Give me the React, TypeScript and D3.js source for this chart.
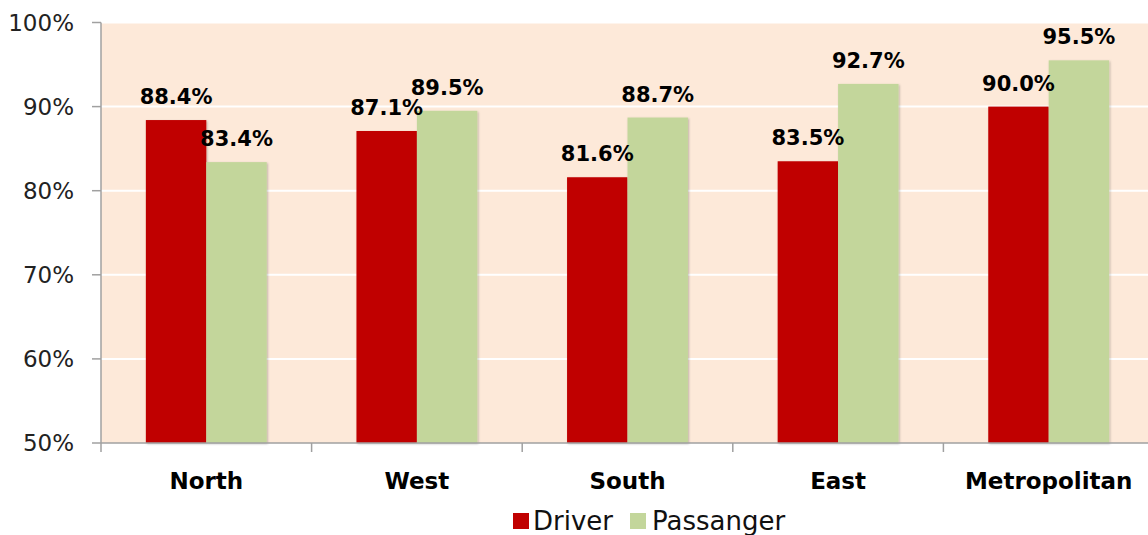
import React from "react";
import * as d3 from "d3";

const categories = ["North", "West", "South", "East", "Metropolitan"];
const driver = [88.4, 87.1, 81.6, 83.5, 90.0];
const passenger = [83.4, 89.5, 88.7, 92.7, 95.5];
const series = ["Driver", "Passanger"];
const yTicks = [50, 60, 70, 80, 90, 100];

const W = 1148;
const H = 535;
const left = 101;
const right = 1154;
const top = 22.5;
const bottom = 443;
const colors = ["#C00000", "#C3D69B"];
const font = "'DejaVu Sans', sans-serif";

export default function App() {
  const x = d3.scaleBand<string>().domain(categories).range([left, right]).paddingInner(0).paddingOuter(0);
  const y = d3.scaleLinear().domain([50, 100]).range([bottom, top]);
  const bw = x.bandwidth();
  const barW = bw * 0.287;
  const data = [driver, passenger];

  return (
    <svg width={W} height={H} style={{ position: "absolute", left: 0, top: 0, fontFamily: font }}>
      <defs>
        <filter id="sh" x="-20%" y="-20%" width="140%" height="140%">
          <feDropShadow dx="1" dy="1" stdDeviation="1.2" floodColor="#000" floodOpacity="0.25" />
        </filter>
      </defs>
      <rect x={left} y={top} width={right - left} height={bottom - top} fill="#FDE9D9" />
      {yTicks.slice(1).map((t) => (
        <line key={t} x1={left} x2={right} y1={y(t)} y2={y(t)} stroke="#fff" strokeWidth={2} />
      ))}
      {categories.map((c, i) =>
        data.map((s, j) => {
          const cx = x(c)! + bw / 2;
          const bx = cx + (j === 0 ? -barW : 0);
          return (
            <rect key={c + j} x={bx} y={y(s[i])} width={barW} height={bottom - y(s[i])} fill={colors[j]} filter="url(#sh)" />
          );
        })
      )}
      {categories.map((c, i) =>
        data.map((s, j) => {
          const cx = x(c)! + bw / 2 + (j === 0 ? -barW / 2 : barW / 2);
          return (
            <text key={"l" + c + j} x={cx} y={y(s[i]) - 16} textAnchor="middle" fontSize={21} fontWeight="bold" fill="#000">
              {s[i].toFixed(1) + "%"}
            </text>
          );
        })
      )}
      {/* y axis */}
      <line x1={left} x2={left} y1={top} y2={bottom} stroke="#A0A0A0" strokeWidth={1.5} />
      {yTicks.map((t) => (
        <g key={"yt" + t}>
          <line x1={left - 9} x2={left} y1={y(t)} y2={y(t)} stroke="#A0A0A0" strokeWidth={1.5} />
          <text x={left - 27} y={y(t)} dy="0.36em" textAnchor="end" fontSize={23} fill="#222">
            {t + "%"}
          </text>
        </g>
      ))}
      {/* x axis */}
      <line x1={left} x2={right} y1={bottom} y2={bottom} stroke="#A0A0A0" strokeWidth={1.5} />
      {categories.map((c) => (
        <line key={"xt" + c} x1={x(c)!} x2={x(c)!} y1={bottom} y2={bottom + 9} stroke="#A0A0A0" strokeWidth={1.5} />
      ))}
      {categories.map((c) => (
        <text key={"xl" + c} x={x(c)! + bw / 2} y={489} textAnchor="middle" fontSize={23} fontWeight="bold" fill="#000">
          {c}
        </text>
      ))}
      {/* legend */}
      <rect x={513} y={513} width={16} height={16} fill={colors[0]} />
      <text x={533} y={530} fontSize={26} fill="#111">{series[0]}</text>
      <rect x={630} y={513} width={16} height={16} fill={colors[1]} />
      <text x={652} y={530} fontSize={26} fill="#111">{series[1]}</text>
    </svg>
  );
}
